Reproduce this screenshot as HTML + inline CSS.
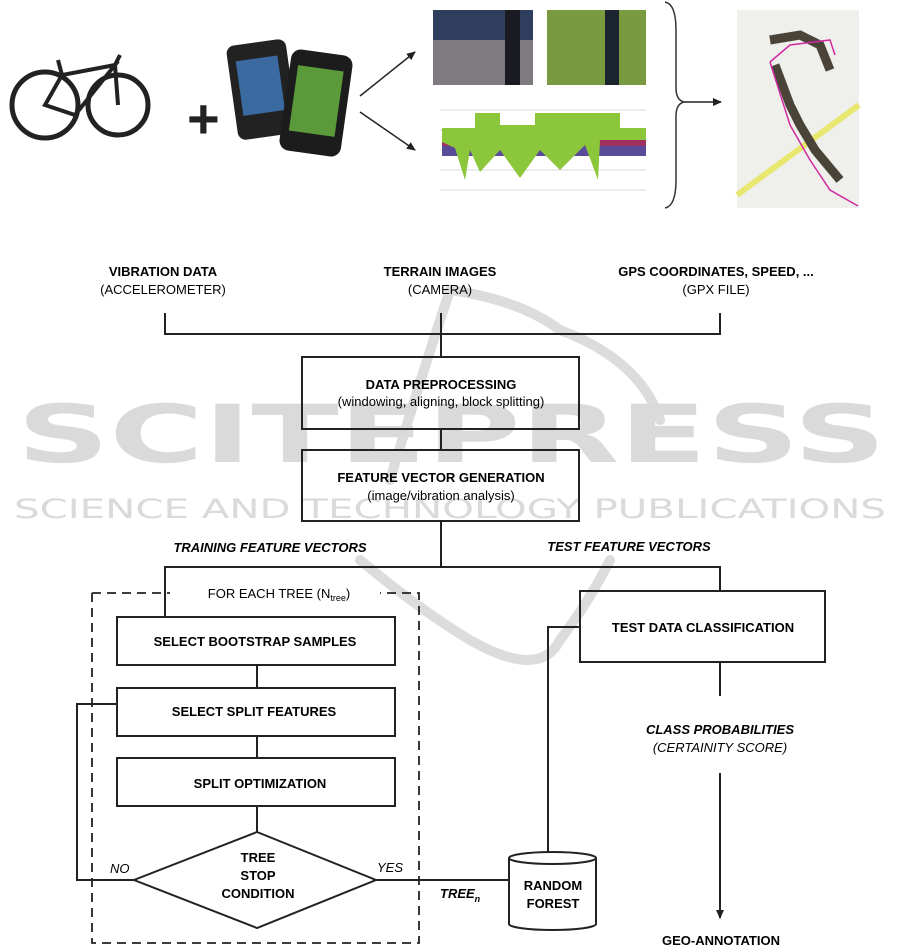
<!DOCTYPE html>
<html><head><meta charset="utf-8"><style>
html,body{margin:0;padding:0;background:#fff;}
svg{display:block;}
text{font-family:"Liberation Sans",Arial,sans-serif;}
.b{font-weight:bold;font-size:13px;}
.n{font-size:13px;}
.wm{font-family:"DejaVu Sans",sans-serif;}
</style></head><body>
<svg width="901" height="945" viewBox="0 0 901 945" xmlns="http://www.w3.org/2000/svg">
<defs><marker id="ah" markerWidth="10" markerHeight="10" refX="8" refY="5" orient="auto" markerUnits="userSpaceOnUse"><path d="M0,1 L9,5 L0,9 Z" fill="#222"/></marker></defs>
<g fill="none" stroke="#dcdcdc" stroke-width="10" stroke-linecap="round">
<path d="M360,560 Q420,610 470,640 Q540,680 560,640 Q590,600 610,560"/>
<path d="M390,480 Q420,380 450,290"/>
<path d="M450,290 Q520,300 560,330 Q640,360 660,420"/>
</g>
<text class="wm" x="17" y="462" font-size="80" font-weight="bold" fill="#dadada" textLength="869" lengthAdjust="spacingAndGlyphs">SCITEPRESS</text>
<text class="wm" x="14" y="518" font-size="27" fill="#dadada" textLength="872" lengthAdjust="spacingAndGlyphs">SCIENCE AND TECHNOLOGY PUBLICATIONS</text>
<g stroke="#222" fill="none">
<circle cx="45" cy="105" r="33" stroke-width="5"/>
<circle cx="118" cy="105" r="30" stroke-width="5"/>
<path d="M45,105 L75,115 L115,65 L62,75 Z M62,75 L58,60 M118,105 L115,65 L120,55" stroke-width="4"/>
</g>
<text x="187" y="138" font-size="56" font-weight="bold" fill="#222">+</text>
<rect x="232" y="42" width="60" height="95" rx="8" fill="#222" transform="rotate(-8 262 90)"/>
<rect x="240" y="58" width="42" height="55" fill="#3b6aa0" transform="rotate(-8 262 90)"/>
<rect x="285" y="52" width="62" height="102" rx="10" fill="#1c1c1c" transform="rotate(8 316 103)"/>
<rect x="293" y="68" width="46" height="66" fill="#5a9a3a" transform="rotate(8 316 103)"/>
<line x1="360" y1="96" x2="415" y2="52" stroke="#222" stroke-width="1.5" marker-end="url(#ah)"/>
<line x1="360" y1="112" x2="415" y2="150" stroke="#222" stroke-width="1.5" marker-end="url(#ah)"/>
<rect x="433" y="10" width="100" height="75" fill="#7e7a80"/>
<rect x="433" y="10" width="100" height="30" fill="#2f3e5c"/>
<rect x="505" y="10" width="15" height="75" fill="#1a1a22"/>
<rect x="547" y="10" width="99" height="75" fill="#7a9a40"/>
<rect x="605" y="10" width="14" height="75" fill="#1c2430"/>
<g stroke="#ccc" stroke-width="0.7"><line x1="440" y1="110" x2="646" y2="110"/><line x1="440" y1="130" x2="646" y2="130"/><line x1="440" y1="150" x2="646" y2="150"/><line x1="440" y1="170" x2="646" y2="170"/><line x1="440" y1="190" x2="646" y2="190"/></g>
<rect x="442" y="140" width="204" height="16" fill="#5a4b9a"/>
<rect x="442" y="136" width="204" height="10" fill="#a03060"/>
<path d="M442,128 L475,128 L475,113 L500,113 L500,125 L535,125 L535,113 L620,113 L620,128 L646,128 L646,140 L600,140 L598,180 L585,145 L560,170 L540,150 L520,178 L500,150 L480,172 L470,150 L465,180 L455,148 L442,142 Z" fill="#8cc63a"/>
<path d="M665,2 Q676,4 676,30 L676,88 Q676,100 684,102 Q676,104 676,116 L676,180 Q676,206 665,208" fill="none" stroke="#333" stroke-width="1.5"/>
<line x1="684" y1="102" x2="721" y2="102" stroke="#222" stroke-width="1.5" marker-end="url(#ah)"/>
<rect x="737" y="10" width="122" height="198" fill="#efefeb"/>
<line x1="737" y1="195" x2="859" y2="105" stroke="#e8e870" stroke-width="6"/>
<path d="M770,40 L800,35 L820,45 L830,70 M775,65 L790,105 L800,125 L815,150 L840,180" fill="none" stroke="#4a4438" stroke-width="9"/>
<path d="M770,62 L790,45 L830,40 L835,55 M770,62 L790,125 L810,160 L830,190 L858,206" fill="none" stroke="#d02aa0" stroke-width="1.5"/>
<g font-size="13">
<text class="b" x="163" y="276" text-anchor="middle">VIBRATION DATA</text>
<text class="n" x="163" y="294" text-anchor="middle">(ACCELEROMETER)</text>
<text class="b" x="440" y="276" text-anchor="middle">TERRAIN IMAGES</text>
<text class="n" x="440" y="294" text-anchor="middle">(CAMERA)</text>
<text class="b" x="716" y="276" text-anchor="middle">GPS COORDINATES, SPEED, ...</text>
<text class="n" x="716" y="294" text-anchor="middle">(GPX FILE)</text>
</g>
<g stroke="#222" stroke-width="2" fill="none">
<path d="M165,313 V334 H720 V313 M441,313 V357"/>
<rect x="302" y="357" width="277" height="72"/>
<line x1="441" y1="429" x2="441" y2="450"/>
<rect x="302" y="450" width="277" height="71"/>
<path d="M441,521 V567 M165,617 V567 H720 V591"/>
<rect x="117" y="617" width="278" height="48"/>
<line x1="257" y1="665" x2="257" y2="688"/>
<rect x="117" y="688" width="278" height="48"/>
<line x1="257" y1="736" x2="257" y2="758"/>
<rect x="117" y="758" width="278" height="48"/>
<line x1="257" y1="806" x2="257" y2="832"/>
<path d="M257,832 L376,880 L257,928 L134,880 Z"/>
<path d="M117,704 H77 V880 H134"/>
<path d="M376,880 H509"/>
<path d="M548,852 V627 H580"/>
<rect x="580" y="591" width="245" height="71"/>
<line x1="720" y1="662" x2="720" y2="696"/>
</g>
<line x1="720" y1="773" x2="720" y2="918" stroke="#222" stroke-width="2" marker-end="url(#ah)"/>
<path d="M92,593 V943 H419 V593 H380 M92,593 H170" fill="none" stroke="#222" stroke-width="1.8" stroke-dasharray="9,6"/>
<g stroke="#222" stroke-width="2" fill="#fff">
<path d="M509,858 V924 A43.5,6 0 0 0 596,924 V858"/>
<ellipse cx="552.5" cy="858" rx="43.5" ry="6"/>
</g>
<g font-size="13">
<text class="b" x="441" y="389" text-anchor="middle">DATA PREPROCESSING</text>
<text class="n" x="441" y="406" text-anchor="middle">(windowing, aligning, block splitting)</text>
<text class="b" x="441" y="482" text-anchor="middle">FEATURE VECTOR GENERATION</text>
<text class="n" x="441" y="500" text-anchor="middle">(image/vibration analysis)</text>
<text class="b" x="270" y="552" text-anchor="middle" font-style="italic">TRAINING FEATURE VECTORS</text>
<text class="b" x="629" y="551" text-anchor="middle" font-style="italic">TEST FEATURE VECTORS</text>
<text class="n" x="279" y="598" text-anchor="middle">FOR EACH TREE (N<tspan font-size="9" dy="3">tree</tspan><tspan dy="-3">)</tspan></text>
<text class="b" x="255" y="646" text-anchor="middle">SELECT BOOTSTRAP SAMPLES</text>
<text class="b" x="254" y="716" text-anchor="middle">SELECT SPLIT FEATURES</text>
<text class="b" x="260" y="788" text-anchor="middle">SPLIT OPTIMIZATION</text>
<text class="b" x="258" y="862" text-anchor="middle">TREE</text>
<text class="b" x="258" y="880" text-anchor="middle">STOP</text>
<text class="b" x="258" y="898" text-anchor="middle">CONDITION</text>
<text class="n" x="110" y="873" font-style="italic">NO</text>
<text class="n" x="377" y="872" font-style="italic">YES</text>
<text class="b" x="440" y="898" font-style="italic">TREE<tspan font-size="9" dy="4">n</tspan></text>
<text class="b" x="553" y="890" text-anchor="middle">RANDOM</text>
<text class="b" x="553" y="908" text-anchor="middle">FOREST</text>
<text class="b" x="703" y="632" text-anchor="middle">TEST DATA CLASSIFICATION</text>
<text class="b" x="720" y="734" text-anchor="middle" font-style="italic">CLASS PROBABILITIES</text>
<text class="n" x="720" y="752" text-anchor="middle" font-style="italic">(CERTAINITY SCORE)</text>
<text class="b" x="721" y="945" text-anchor="middle">GEO-ANNOTATION</text>
</g>
</svg>
</body></html>
